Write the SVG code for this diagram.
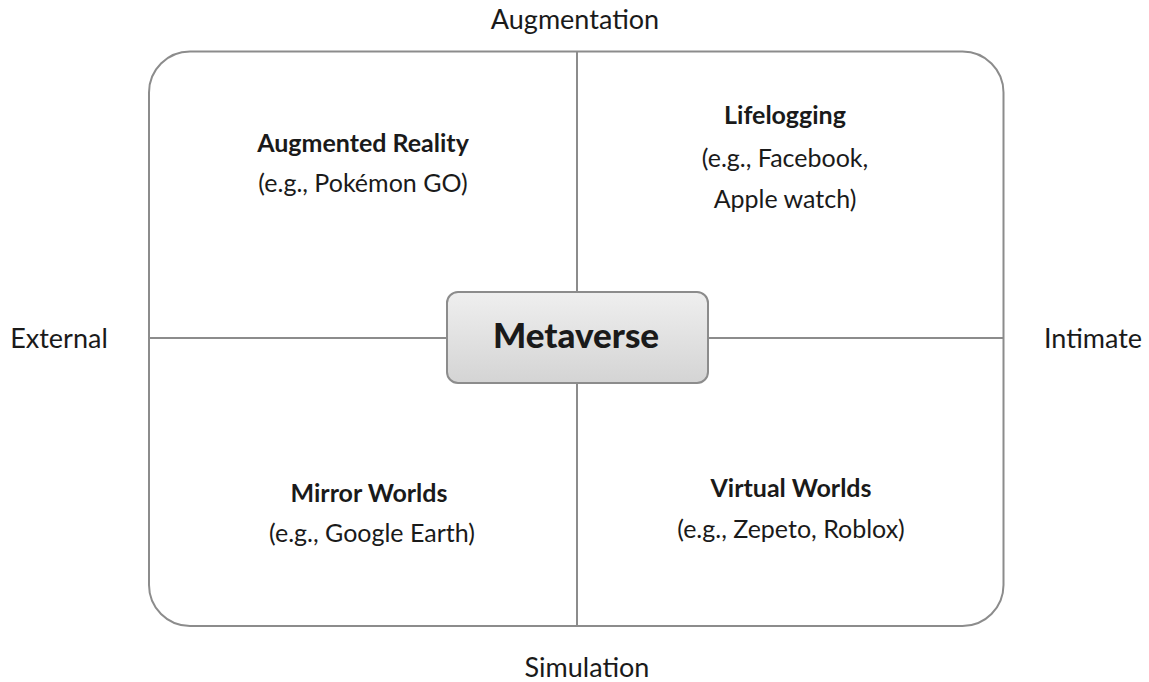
<svg xmlns="http://www.w3.org/2000/svg" width="1149" height="682" viewBox="0 0 1149 682">
<style>
.t{font-family:Lato,"Open Sans",sans-serif;font-size:25px;fill:#1a1a1a;text-anchor:middle}
.a{font-size:27px}
.b{font-weight:bold}
.ln{stroke:#8c8c8c;stroke-width:2;fill:none}
</style>
<defs>
<linearGradient id="g" x1="0" y1="0" x2="0" y2="1">
<stop offset="0" stop-color="#efefef"/>
<stop offset="1" stop-color="#d4d4d4"/>
</linearGradient>
</defs>
<rect width="1149" height="682" fill="#fff"/>
<g id="frame">
<rect class="ln" x="149" y="51.5" width="854.5" height="574.5" rx="41" ry="41"/>
</g>
<g id="connectors">
<line class="ln" x1="577" y1="51.5" x2="577" y2="292"/>
<line class="ln" x1="577" y1="383" x2="577" y2="626"/>
<line class="ln" x1="149" y1="338" x2="447" y2="338"/>
<line class="ln" x1="708" y1="338" x2="1003.5" y2="338"/>
</g>
<g id="axis-labels">
<text class="t a" x="575" y="29">Augmentation</text>
<text class="t a" x="587" y="677">Simulation</text>
<text class="t a" x="59" y="348">External</text>
<text class="t a" x="1093" y="348">Intimate</text>
</g>
<g id="metaverse">
<rect x="447" y="292" width="261" height="91" rx="11" ry="11" fill="url(#g)" stroke="#8c8c8c" stroke-width="2"/>
<text class="t b" x="576" y="348" style="font-size:35px;font-weight:900">Metaverse</text>
</g>
<g id="augmented-reality">
<text class="t b" x="363" y="152">Augmented Reality</text>
<text class="t" x="363" y="192">(e.g., Pokémon GO)</text>
</g>
<g id="lifelogging">
<text class="t b" x="785" y="124">Lifelogging</text>
<text class="t" x="785" y="167">(e.g., Facebook,</text>
<text class="t" x="785" y="208">Apple watch)</text>
</g>
<g id="mirror-worlds">
<text class="t b" x="369" y="502">Mirror Worlds</text>
<text class="t" x="372" y="542">(e.g., Google Earth)</text>
</g>
<g id="virtual-worlds">
<text class="t b" x="791" y="497">Virtual Worlds</text>
<text class="t" x="791" y="538">(e.g., Zepeto, Roblox)</text>
</g>
</svg>
